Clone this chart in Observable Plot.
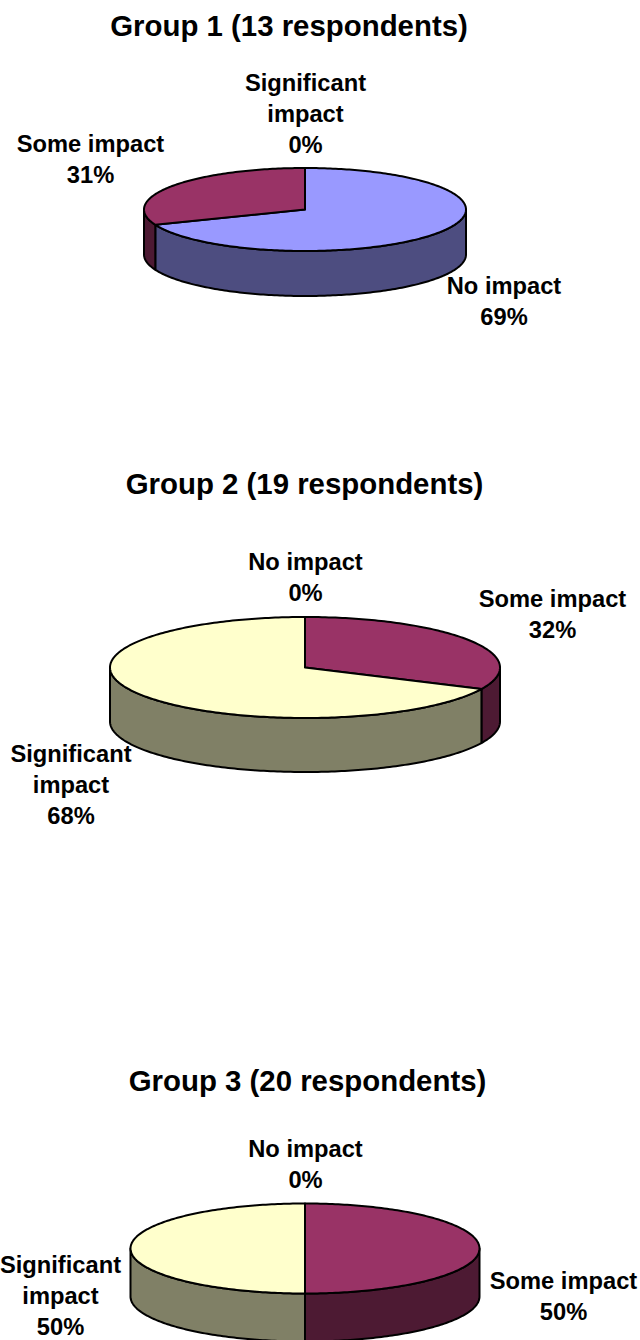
<!DOCTYPE html>
<html>
<head>
<meta charset="utf-8">
<script src="https://cdn.jsdelivr.net/npm/d3@7"></script>
<script src="https://cdn.jsdelivr.net/npm/@observablehq/plot@0.6"></script>
<style>html,body{margin:0;padding:0;background:#fff}svg{display:block}</style>
</head>
<body>
<div id="chart"></div>
<script>
const categories = ["No impact", "Some impact", "Significant impact"];
const titles = ["Group 1 (13 respondents)", "Group 2 (19 respondents)", "Group 3 (20 respondents)"];
const group1 = [69, 31, 0];
const group2 = [0, 32, 68];
const group3 = [0, 50, 50];
const topColors = ["#9999FF", "#993366", "#FFFFCC"];
const sideColors = ["#4D4D80", "#4D1A33", "#808066"];

// layout of each pie (ellipse centre, radii, wall depth) and its title
const layouts = [
  {values: group1, cx: 304.5, cy: 209, rx: 161, ry: 41.5, depth: 45, titleX: 288.5, titleY: 26},
  {values: group2, cx: 304.5, cy: 667, rx: 195, ry: 50.5, depth: 54, titleX: 304, titleY: 484},
  {values: group3, cx: 304.5, cy: 1248, rx: 174.5, ry: 45, depth: 48, titleX: 307, titleY: 1081}
];
// label anchors, by group and category
const labelX = [[503.5, 90, 305], [305, 552, 70.5], [305, 563, 60]];
const labelY = [[299.5, 157.5, 111.5], [575.5, 612.5, 782.5], [1162.5, 1294.5, 1294]];
const labelLines = {"No impact": "No impact", "Some impact": "Some impact", "Significant impact": "Significant\nimpact"};

const at = (p, deg, dz = 0) => {
  const a = deg * Math.PI / 180;
  return {x: p.cx + p.rx * Math.sin(a), y: p.cy - p.ry * Math.cos(a) + dz};
};
let id = 0;
const sides = [], tops = [], labels = [];
layouts.forEach((p, g) => {
  let start = 0;
  const total = d3.sum(p.values);
  p.values.forEach((v, c) => {
    const end = start + v / total * 360;
    labels.push({x: labelX[g][c], y: labelY[g][c], text: `${labelLines[categories[c]]}\n${v}%`});
    if (v > 0) {
      // front wall: only the part of the slice facing the viewer
      const a0 = Math.max(start, 90), a1 = Math.min(end, 270);
      if (a1 > a0) {
        const k = ++id, path = [];
        for (const d of d3.range(a0, a1, 1).concat(a1)) path.push(at(p, d));
        for (const d of d3.range(a0, a1, 1).concat(a1).reverse()) path.push(at(p, d, p.depth));
        path.push(path[0]);
        path.forEach(q => sides.push({...q, id: k, fill: sideColors[c]}));
      }
      // top face
      const k = ++id, path = [{x: p.cx, y: p.cy}];
      for (const d of d3.range(start, end, 1).concat(end)) path.push(at(p, d));
      path.push(path[0]);
      path.forEach(q => tops.push({...q, id: k, fill: topColors[c]}));
    }
    start = end;
  });
});

const face = {x: "x", y: "y", z: "id", fill: "fill", stroke: "#000", strokeWidth: 2, strokeLinejoin: "round"};
const font = "Liberation Sans, Arial, sans-serif";

const chart = Plot.plot({
  width: 640,
  height: 1340,
  margin: 0,
  x: {domain: [0, 640], range: [0, 640], axis: null},
  y: {domain: [0, 1340], range: [0, 1340], axis: null},
  color: {type: "identity"},
  style: {background: "#fff"},
  marks: [
    Plot.line(sides, face),
    Plot.line(tops, face),
    Plot.text(layouts, {
      x: "titleX", y: "titleY", text: (d, i) => titles[i],
      fontFamily: font, fontWeight: "bold", fontSize: 29.4, fill: "#000", textAnchor: "middle"
    }),
    Plot.text(labels, {
      x: "x", y: "y", text: "text", lineHeight: 1.308,
      fontFamily: font, fontWeight: "bold", fontSize: 23.7, fill: "#000", textAnchor: "middle", lineAnchor: "middle"
    })
  ]
});
document.getElementById("chart").append(chart);
</script>
</body>
</html>
